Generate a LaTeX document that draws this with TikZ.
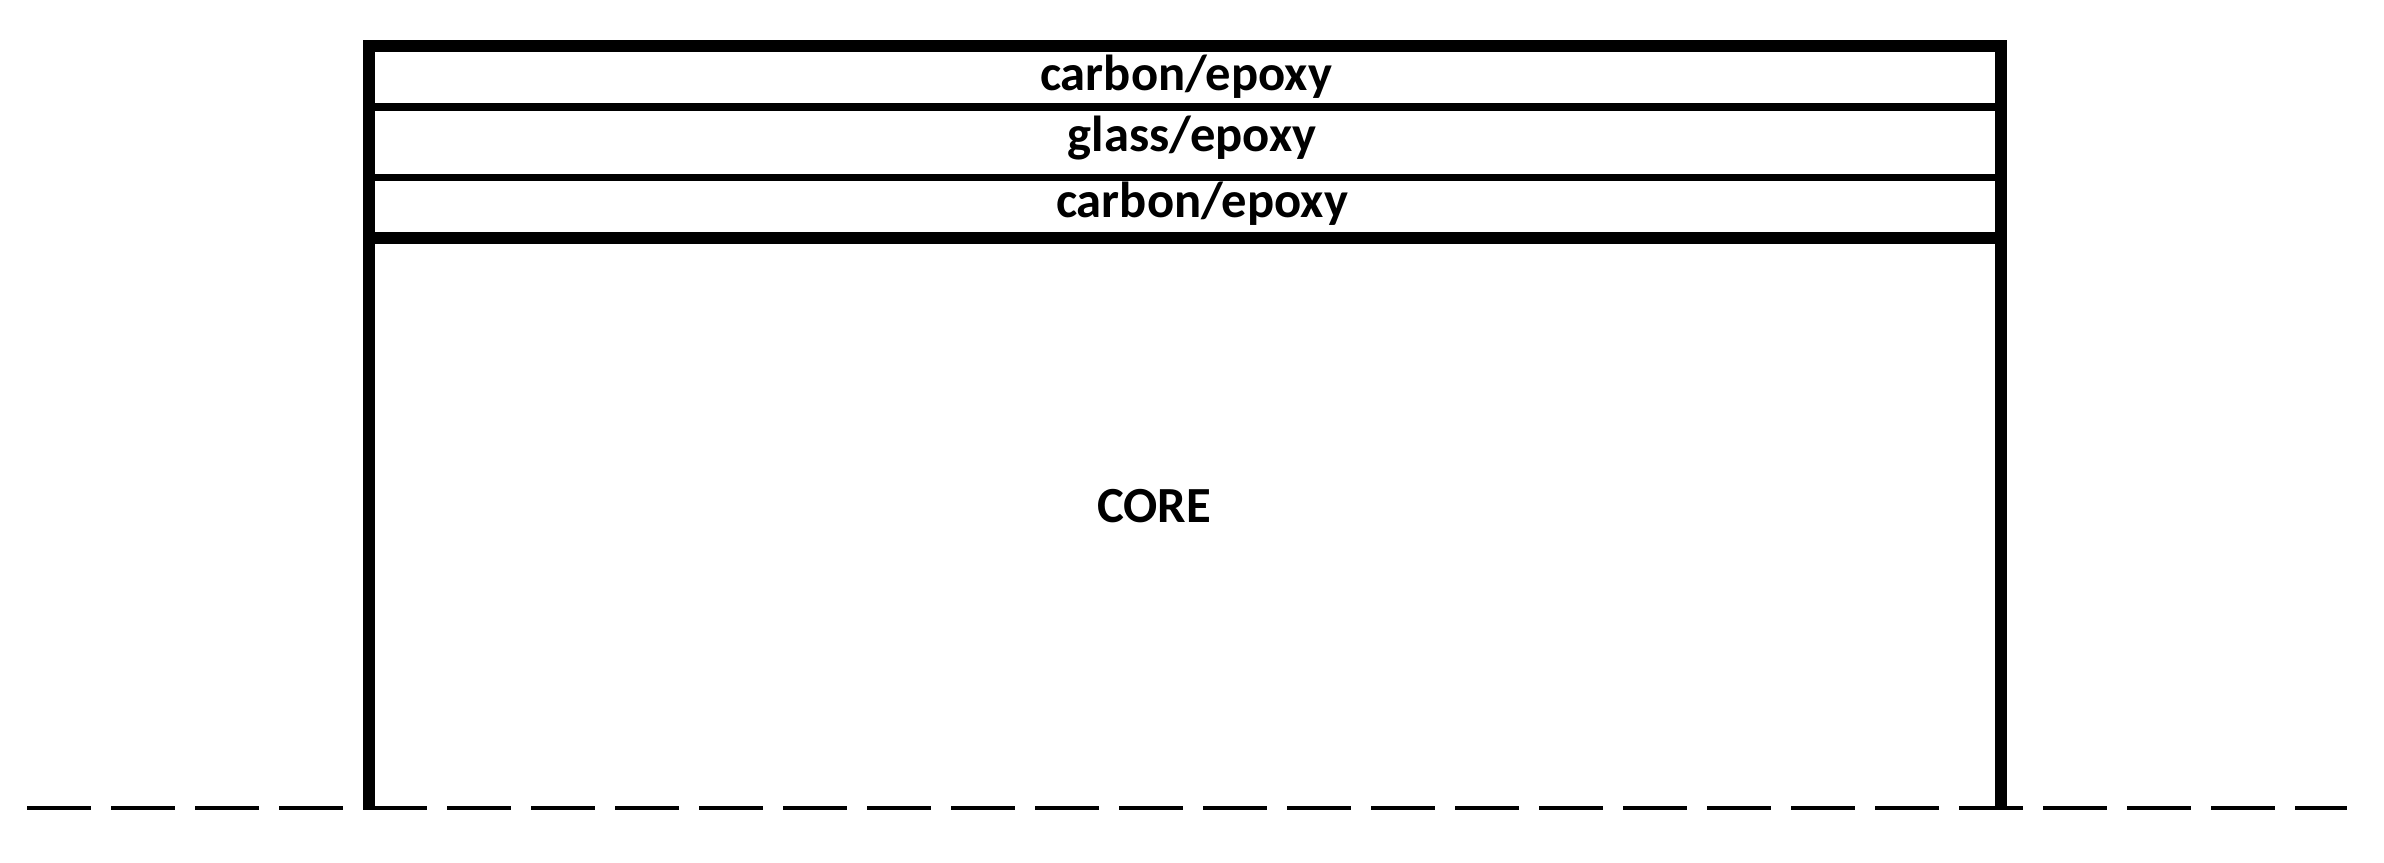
\documentclass[tikz,border=0pt]{standalone}
\usepackage{fontspec}
\setmainfont{Carlito}
\usepackage{tikz}
\usetikzlibrary{positioning}
\tikzset{lay/.style={font=\bfseries\fontsize{14.4}{16}\selectfont, anchor=base, inner sep=0pt}}

\begin{document}
\begin{tikzpicture}
                                \useasboundingbox (0, 0) rectangle (23.84, 8.63);
                                \draw[line width=3.3pt, line join=miter] (3.69, 0.53) -- (3.69, 8.17) -- (20.01, 8.17) -- (20.01, 0.53);
                                \draw[line width=2pt] (3.69, 7.56) -- (20.01, 7.56);
                                \draw[line width=2pt] (3.69, 6.855) -- (20.01, 6.855);
                                \draw[line width=3.4pt] (3.69, 6.25) -- (20.01, 6.25);
                                \draw[line width=1.3pt, dash pattern=on 0.64cm off 0.2cm] (0.27, 0.55) -- (23.47, 0.55);
                                \node[lay] (c1) at (11.86, 7.72) {carbon/epoxy};
                                \node[lay] (g) at (11.92, 7.11) {glass/epoxy};
                                \node[lay] (c2) at (12.02, 6.45) {carbon/epoxy};
                                \node[lay] (core) at (11.54, 3.40) {CORE};
                            \end{tikzpicture}
\end{document}
